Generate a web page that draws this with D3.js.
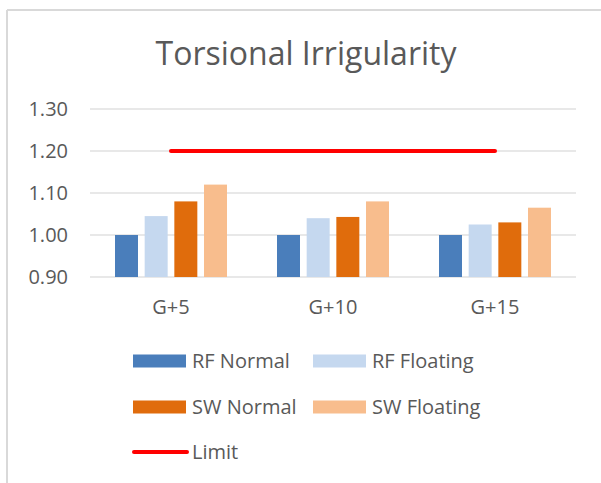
<!DOCTYPE html>
<html>
<head>
<meta charset="utf-8">
<script src="https://cdn.jsdelivr.net/npm/d3@7"></script>
<style>
  body { margin: 0; background: #fff; }
  text { font-family: "Open Sans", sans-serif; fill: #595959; }
</style>
</head>
<body>
<div id="chart"></div>
<script>
var width = 601,
    height = 483;

// data
var categories = ["G+5", "G+10", "G+15"];
var seriesNames = ["RF Normal", "RF Floating", "SW Normal", "SW Floating"];
var rfNormal   = [1.00, 1.00, 1.00];
var rfFloating = [1.045, 1.04, 1.025];
var swNormal   = [1.08, 1.043, 1.03];
var swFloating = [1.12, 1.08, 1.065];
var limit      = [1.20, 1.20, 1.20];
var yTicks     = [0.90, 1.00, 1.10, 1.20, 1.30];

var colors = ["#4a7ebb", "#c5d8ef", "#e06c0c", "#f8bd8d"];
var seriesValues = [rfNormal, rfFloating, swNormal, swFloating];

var margin = {left: 90, right: 25, top: 109, bottom: 206};

var svg = d3.select("#chart").append("svg")
            .attr("width", width)
            .attr("height", height);

// chart frame (only top and left edges visible in the crop)
svg.append("line")
   .attr("x1", 7).attr("x2", width).attr("y1", 10).attr("y2", 10)
   .style("stroke", "#d9d9d9").style("stroke-width", 2);
svg.append("line")
   .attr("x1", 7).attr("x2", 7).attr("y1", 10).attr("y2", height)
   .style("stroke", "#d9d9d9").style("stroke-width", 2);

svg.append("text")
   .attr("x", 306)
   .attr("y", 65)
   .attr("text-anchor", "middle")
   .style("font-size", "32px")
   .text("Torsional Irrigularity");

var x = d3.scaleBand()
          .domain(categories)
          .range([margin.left, width - margin.right]);

var groupWidth = 112;
var x1 = d3.scaleBand()
           .domain(seriesNames)
           .range([0, groupWidth])
           .paddingInner(0.225);

var y = d3.scaleLinear()
          .domain([0.90, 1.30])
          .range([height - margin.bottom, margin.top]);

// gridlines
svg.append("g")
   .selectAll("line")
   .data(yTicks)
   .enter().append("line")
   .attr("x1", margin.left)
   .attr("x2", width - margin.right)
   .attr("y1", d => y(d))
   .attr("y2", d => y(d))
   .style("stroke", "#e0e0e0")
   .style("stroke-width", 1.3);

var yAxis = svg.append("g")
   .attr("transform", "translate(" + (margin.left - 8) + ",0)")
   .call(d3.axisLeft(y).tickValues(yTicks).tickFormat(d3.format(".2f")).tickSize(0).tickPadding(14));
yAxis.select(".domain").remove();
yAxis.selectAll("text").style("font-size", "20px").style("fill", "#595959").attr("font-family", null);

var xAxis = svg.append("g")
   .attr("transform", "translate(0," + (height - margin.bottom) + ")")
   .call(d3.axisBottom(x).tickSize(0).tickPadding(23));
xAxis.select(".domain").remove();
xAxis.selectAll("text").style("font-size", "20px").style("fill", "#595959").attr("font-family", null);

// bars
var groups = svg.append("g")
   .selectAll("g")
   .data(categories)
   .enter().append("g")
   .attr("transform", d => "translate(" + (x(d) + x.bandwidth() / 2 - groupWidth / 2) + ",0)");

groups.selectAll("rect")
   .data((d, i) => seriesNames.map((s, j) => ({series: s, value: seriesValues[j][i], j: j})))
   .enter().append("rect")
   .attr("x", d => x1(d.series))
   .attr("width", x1.bandwidth())
   .attr("y", d => y(d.value))
   .attr("height", d => y(0.90) - y(d.value))
   .attr("fill", d => colors[d.j]);

// limit line
var line = d3.line()
    .x((d, i) => x(categories[i]) + x.bandwidth() / 2)
    .y(d => y(d));

svg.append("path")
   .datum(limit)
   .attr("d", line)
   .style("fill", "none")
   .style("stroke", "#ff0000")
   .style("stroke-width", 4)
   .style("stroke-linecap", "round");

// legend
var legendItems = [
    {name: "RF Normal", color: colors[0], x: 133, y: 361},
    {name: "RF Floating", color: colors[1], x: 313, y: 361},
    {name: "SW Normal", color: colors[2], x: 133, y: 407},
    {name: "SW Floating", color: colors[3], x: 313, y: 407},
    {name: "Limit", color: "#ff0000", x: 133, y: 452, isLine: true}
];

var legend = svg.append("g")
   .selectAll("g")
   .data(legendItems)
   .enter().append("g")
   .attr("transform", d => "translate(" + d.x + "," + d.y + ")");

legend.filter(d => !d.isLine).append("rect")
   .attr("x", 0).attr("y", -6.5)
   .attr("width", 53).attr("height", 13)
   .attr("fill", d => d.color);

legend.filter(d => d.isLine).append("line")
   .attr("x1", 1).attr("x2", 54)
   .attr("y1", 0).attr("y2", 0)
   .style("stroke", d => d.color)
   .style("stroke-width", 4)
   .style("stroke-linecap", "round");

legend.append("text")
   .attr("x", 59)
   .attr("y", 0)
   .attr("dy", "0.35em")
   .style("font-size", "20px")
   .text(d => d.name);
</script>
</body>
</html>
